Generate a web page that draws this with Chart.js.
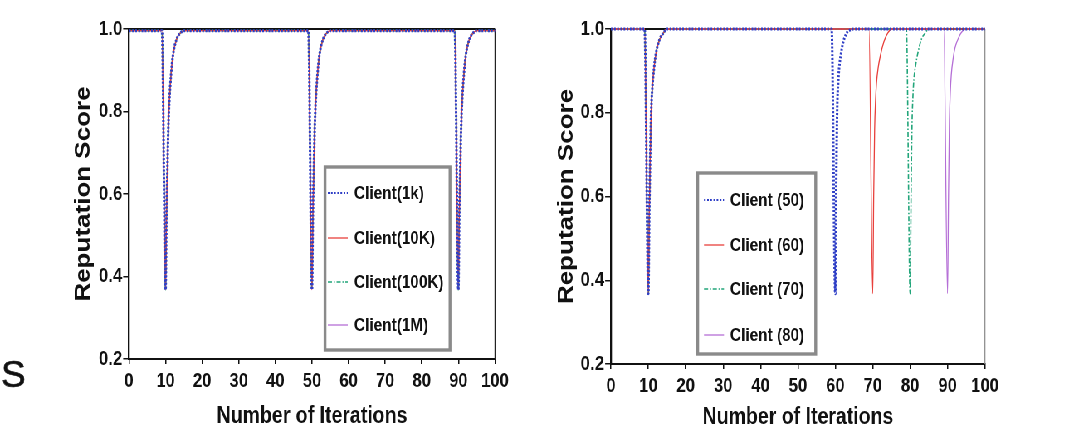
<!DOCTYPE html>
<html><head><meta charset="utf-8">
<script src="https://cdn.jsdelivr.net/npm/chart.js@4.4.1/dist/chart.umd.min.js"></script>
<style>
html,body{margin:0;padding:0;background:#fff;overflow:hidden;width:1072px;height:434px;}
#wrap{position:absolute;left:0;top:0;width:1292px;height:434px;transform:scaleX(0.83);transform-origin:0 0;}
#c1{position:absolute;left:0;top:0;width:640px;height:434px;}
#c2{position:absolute;left:640px;top:0;width:652px;height:434px;}
#s{position:absolute;left:1px;top:357px;font:37px 'Liberation Sans',Arial,sans-serif;line-height:36px;color:#111;-webkit-text-stroke:0.6px #111;}
</style></head><body>
<div id="wrap"><canvas id="c1" width="640" height="434"></canvas><canvas id="c2" width="652" height="434"></canvas></div>
<div id="s">S</div>
<script>
// ---------- data ----------
const iterTicks = [0,10,20,30,40,50,60,70,80,90,100];
const yTicks = [0.2,0.4,0.6,0.8,1.0];
const yTickLabels = ['0.2','0.4','0.6','0.8','1.0'];

// left chart
const leftLabels = ['Client(1k)','Client(10K)','Client(100K)','Client(1M)'];
const leftX = [0,9,10,10.25,10.5,10.75,11,11.5,12,13,14,15,49,50,50.25,50.5,50.75,51,51.5,52,53,54,55,89,90,90.25,90.5,90.75,91,91.5,92,93,94,95,100];
const client1k   = [0.996,0.996,0.368,0.55,0.66,0.76,0.82,0.89,0.935,0.975,0.99,0.996,0.996,0.368,0.55,0.66,0.76,0.82,0.89,0.935,0.975,0.99,0.996,0.996,0.368,0.55,0.66,0.76,0.82,0.89,0.935,0.975,0.99,0.996,0.996];
const client10K  = [0.996,0.996,0.368,0.55,0.66,0.76,0.82,0.89,0.935,0.975,0.99,0.996,0.996,0.368,0.55,0.66,0.76,0.82,0.89,0.935,0.975,0.99,0.996,0.996,0.368,0.55,0.66,0.76,0.82,0.89,0.935,0.975,0.99,0.996,0.996];
const client100K = [0.996,0.996,0.368,0.55,0.66,0.76,0.82,0.89,0.935,0.975,0.99,0.996,0.996,0.368,0.55,0.66,0.76,0.82,0.89,0.935,0.975,0.99,0.996,0.996,0.368,0.55,0.66,0.76,0.82,0.89,0.935,0.975,0.99,0.996,0.996];
const client1M   = [0.996,0.996,0.368,0.55,0.66,0.76,0.82,0.89,0.935,0.975,0.99,0.996,0.996,0.368,0.55,0.66,0.76,0.82,0.89,0.935,0.975,0.99,0.996,0.996,0.368,0.55,0.66,0.76,0.82,0.89,0.935,0.975,0.99,0.996,0.996];

// right chart
const rightLabels = ['Client (50)','Client (60)','Client (70)','Client (80)'];
const client50X = [0,9,10,10.25,10.5,10.75,11,11.5,12,13,14,15,59,60,60.25,60.5,60.75,61,61.5,62,63,64,65,100];
const client50Y = [1,1,0.368,0.56,0.70,0.80,0.85,0.905,0.94,0.975,0.99,1,1,0.368,0.64,0.81,0.87,0.905,0.94,0.965,0.99,0.998,1,1];
const client60X = [0,9,10,10.25,10.5,10.75,11,11.5,12,13,14,15,69,70,70.25,70.5,70.75,71,71.5,72,73,74,75,100];
const client60Y = [1,1,0.368,0.56,0.70,0.80,0.85,0.905,0.94,0.975,0.99,1,1,0.368,0.60,0.76,0.83,0.87,0.91,0.935,0.97,0.99,1,1];
const client70X = [0,9,10,10.25,10.5,10.75,11,11.5,12,13,14,15,79,80,80.25,80.5,80.75,81,81.5,82,83,84,85,100];
const client70Y = [1,1,0.368,0.56,0.70,0.80,0.85,0.905,0.94,0.975,0.99,1,1,0.368,0.60,0.77,0.84,0.88,0.915,0.94,0.975,0.99,1,1];
const client80X = [0,9,10,10.25,10.5,10.75,11,11.5,12,13,14,15,89,90,90.25,90.5,90.75,91,91.5,92,93,94,95,100];
const client80Y = [1,1,0.368,0.56,0.70,0.80,0.85,0.905,0.94,0.975,0.99,1,1,0.368,0.60,0.78,0.85,0.89,0.93,0.955,0.98,0.995,1,1];

// ---------- styles ----------
const F = "'Liberation Sans', Arial, sans-serif";
const INK = '#111';
const styles = [
  {borderColor:'#2f3fc6', borderWidth:3,   borderDash:[2,1.8]},
  {borderColor:'#e8403c', borderWidth:1.3, borderDash:[]},
  {borderColor:'#22a57a', borderWidth:1.6, borderDash:[5,2,1.5,2]},
  {borderColor:'#b56fd6', borderWidth:1.3, borderDash:[]}
];
const pts = (xs, ys) => xs.map((x,i)=>({x, y: ys[i]}));

function makeDatasets(labels, series){
  return labels.map((lab,i)=>Object.assign({
    label: lab, data: series[i], showLine:true, pointRadius:0, fill:false,
    cubicInterpolationMode:'monotone', clip:false
  }, styles[i]));
}

const frame = {
  id:'frame',
  beforeDatasetsDraw(chart, args, o){
    const {ctx, chartArea:a} = chart;
    ctx.save();
    ctx.strokeStyle = o.topColor; ctx.lineWidth = o.topWidth;
    ctx.beginPath(); ctx.moveTo(a.left, a.top); ctx.lineTo(a.right, a.top); ctx.stroke();
    ctx.strokeStyle = o.rightColor; ctx.lineWidth = o.rightWidth;
    ctx.beginPath(); ctx.moveTo(a.right, a.top); ctx.lineTo(a.right, a.bottom); ctx.stroke();
    ctx.restore();
  }
};

const boxLegend = {
  id:'boxLegend',
  afterDatasetsDraw(chart, args, o){
    const {ctx} = chart;
    ctx.save();
    ctx.fillStyle = '#fff';
    ctx.fillRect(o.x, o.y, o.w, o.h);
    ctx.strokeStyle = '#8a8a8a'; ctx.lineWidth = 3.4;
    ctx.strokeRect(o.x, o.y, o.w, o.h);
    chart.data.datasets.forEach((ds,i)=>{
      const y = o.rows[i];
      ctx.strokeStyle = ds.borderColor;
      ctx.lineWidth = Math.min(ds.borderWidth, 2);
      ctx.setLineDash(ds.borderDash || []);
      ctx.beginPath(); ctx.moveTo(o.sx0, y); ctx.lineTo(o.sx1, y); ctx.stroke();
      ctx.setLineDash([]);
      ctx.fillStyle = INK;
      ctx.font = "bold 18.5px " + F;
      ctx.textBaseline = 'middle'; ctx.textAlign = 'left';
      ctx.fillText(ds.label, o.tx, y + 1);
    });
    ctx.restore();
  }
};

function scales(yWidth, xHeight, yTitlePad, xTitlePad){
  return {
    x: {
      type:'linear', min:0, max:100,
      afterBuildTicks: s => { s.ticks = iterTicks.map(v=>({value:v})); },
      ticks:{font:{family:F, size:20, weight:'bold'}, color:INK, padding:5, maxRotation:0, autoSkip:false,
             callback:(v)=>String(v)},
      grid:{drawOnChartArea:false, drawTicks:true, tickLength:5, color:INK, lineWidth:1.5},
      border:{display:true, color:INK, width:2},
      title:{display:true, text:'Number of Iterations', color:INK,
             font:{family:F, size:23.5, weight:'bold'}, padding:{top:0, bottom:xTitlePad}},
      afterFit: s => { s.height = xHeight; }
    },
    y: {
      type:'linear', min:0.2, max:1.0,
      afterBuildTicks: s => { s.ticks = yTicks.map(v=>({value:v})); },
      ticks:{font:{family:F, size:20.5, weight:'bold'}, color:INK, padding:1, autoSkip:false,
             callback:(v,i)=>yTickLabels[i]},
      grid:{drawOnChartArea:false, drawTicks:true, tickLength:7, color:INK, lineWidth:1.5},
      border:{display:true, color:INK, width:2.3},
      title:{display:true, text:'Reputation Score', color:INK,
             font:{family:F, size:26, weight:'bold'}, padding:{top:yTitlePad, bottom:0}},
      afterFit: s => { s.width = yWidth; }
    }
  };
}

const common = {
  responsive:false, animation:false, devicePixelRatio:1,
  events:[],
};

new Chart(document.getElementById('c1'), {
  type:'scatter',
  data:{datasets: makeDatasets(leftLabels, [pts(leftX,client1k), pts(leftX,client10K), pts(leftX,client100K), pts(leftX,client1M)])},
  options: Object.assign({}, common, {
    layout:{padding:{left:0, right:43.6, top:29, bottom:0}},
    scales: scales(155.4, 75, 85, 3),
    plugins:{
      legend:{display:false}, tooltip:{enabled:false},
      frame:{topColor:INK, topWidth:1.8, rightColor:'#222', rightWidth:1.2},
      boxLegend:{x:391.6, y:167, w:150.6, h:183, rows:[193,238,282,325], sx0:395, sx1:419, tx:426.5}
    }
  }),
  plugins:[frame, boxLegend]
});

new Chart(document.getElementById('c2'), {
  type:'scatter',
  data:{datasets: makeDatasets(rightLabels, [pts(client50X,client50Y), pts(client60X,client60Y), pts(client70X,client70Y), pts(client80X,client80Y)])},
  options: Object.assign({}, common, {
    layout:{padding:{left:0, right:105.3, top:29, bottom:0}},
    scales: scales(96.1, 70, 27.5, 2),
    plugins:{
      legend:{display:false}, tooltip:{enabled:false},
      frame:{topColor:INK, topWidth:1.8, rightColor:'#888', rightWidth:1.2},
      boxLegend:{x:200.6, y:173, w:142.2, h:181, rows:[200,245,289,335], sx0:208.2, sx1:232.3, tx:239.5}
    }
  }),
  plugins:[frame, boxLegend]
});
</script>
</body></html>
